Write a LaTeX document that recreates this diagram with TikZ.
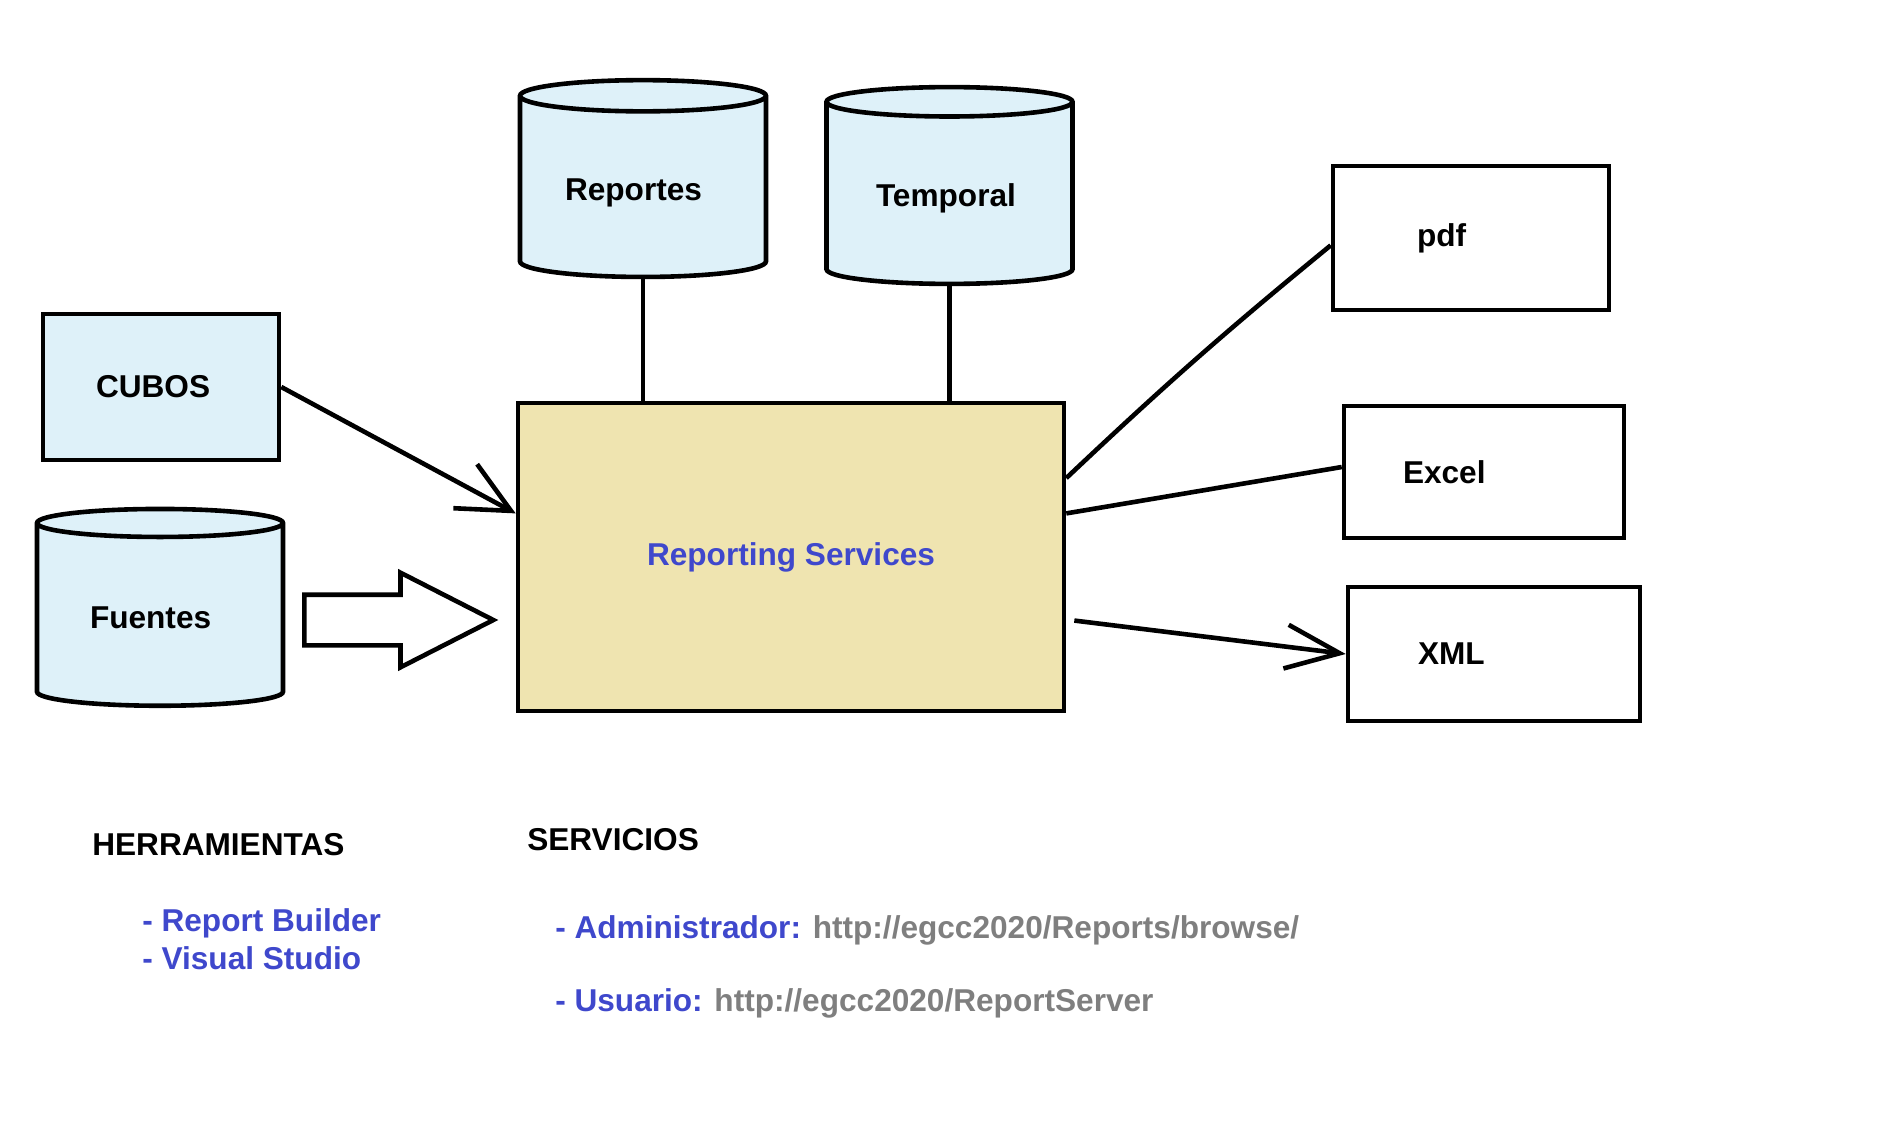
\documentclass[tikz,border=0pt]{standalone}
\usepackage{fontspec}
\setmainfont{Liberation Sans}
\usetikzlibrary{shapes, arrows.meta}

\definecolor{celeste}{RGB}{222,241,249}
\definecolor{arena}{RGB}{239,228,176}
\definecolor{azul}{RGB}{63,72,204}
\definecolor{gris}{RGB}{127,127,127}

\begin{document}
\begin{tikzpicture}[x=0.5pt, y=-0.5pt, line width=2.3pt,
    font=\fontsize{15.8}{19}\selectfont\bfseries]
      \tikzstyle{cubo} = [
        rectangle,
        draw,
        fill=celeste,
        align=left,
        text width=65pt,
        minimum width=118pt,
        minimum height=73pt
      ]

      \tikzstyle{basedatos} = [
        cylinder,
        shape border rotate=90,
        draw,
        fill=celeste,
        aspect=0.2,
        align=left,
        minimum width=123pt,
        minimum height=98.4pt,
        text height=16pt,
        text depth=3.5pt,
        inner sep=0pt
      ]

      \tikzstyle{servidor} = [
        rectangle,
        draw,
        fill=arena,
        text=azul,
        minimum width=273pt,
        minimum height=154pt
      ]

      \tikzstyle{salida} = [
        rectangle,
        draw,
        fill=white,
        align=left
      ]

      \tikzstyle{flechagrande} = [
        single arrow,
        draw,
        fill=white,
        minimum height=94.5pt,
        minimum width=45pt,
        single arrow head extend=11pt,
        single arrow tip angle=54,
        inner xsep=0pt,
        inner ysep=11.5pt
      ]

      \tikzstyle{texto} = [
        anchor=west,
        inner sep=0pt
      ]

      \useasboundingbox (0,0) rectangle (1889,1145);

      \node[cubo] (cubos) at (161,387) {CUBOS};
      \node[basedatos, text width=70pt] (fuentes) at (160,615.5) {Fuentes};
      \node[basedatos, text width=78pt] (reportes) at (643,187.5) {Reportes};
      \node[basedatos, text width=73.5pt] (temporal) at (949.5,194) {Temporal};
      \node[servidor] (reporting) at (791,557) {Reporting Services};
      \node[salida, minimum width=138pt, minimum height=72pt, text width=54pt]
      (pdf) at (1471,238) {pdf};
      \node[salida, minimum width=140pt, minimum height=66pt, text width=81pt]
      (excel) at (1484,472) {Excel};
      \node[salida, minimum width=146pt, minimum height=67pt, text width=76pt]
      (xml) at (1494,654) {XML};
      \node[flechagrande] (flecha) at (374,620) {};

      \node[texto] (herramientas) at (90,845) {HERRAMIENTAS};
      \node[texto, align=left, text=azul] (herramientas lista) at (140,939)
      {- Report Builder\\- Visual Studio};
      \node[texto] (servicios) at (525,840) {SERVICIOS};
      \node[texto] (administrador) at (553,930) {\textcolor{azul}{- Administrador:}
        \textcolor{gris}{http://egcc2020/Reports/browse/}};
      \node[texto] (usuario) at (553,1003) {\textcolor{azul}{- Usuario:}
        \textcolor{gris}{http://egcc2020/ReportServer}};

      \draw (reportes.south) -- (reportes.south |- reporting.north);
      \draw (temporal.south) -- (temporal.south |- reporting.north);
      \draw[-{Straight Barb[length=26pt, width=25pt]}] (cubos.east) -- (reporting.171);
      \draw (reporting.16) to[bend left=2] (pdf.183);
      \draw (reporting.9) -- (excel.178);
      \draw[-{Straight Barb[length=27pt, width=22pt]}] ([xshift=4pt]reporting.-13)
      -- (xml.west);
    \end{tikzpicture}
\end{document}
